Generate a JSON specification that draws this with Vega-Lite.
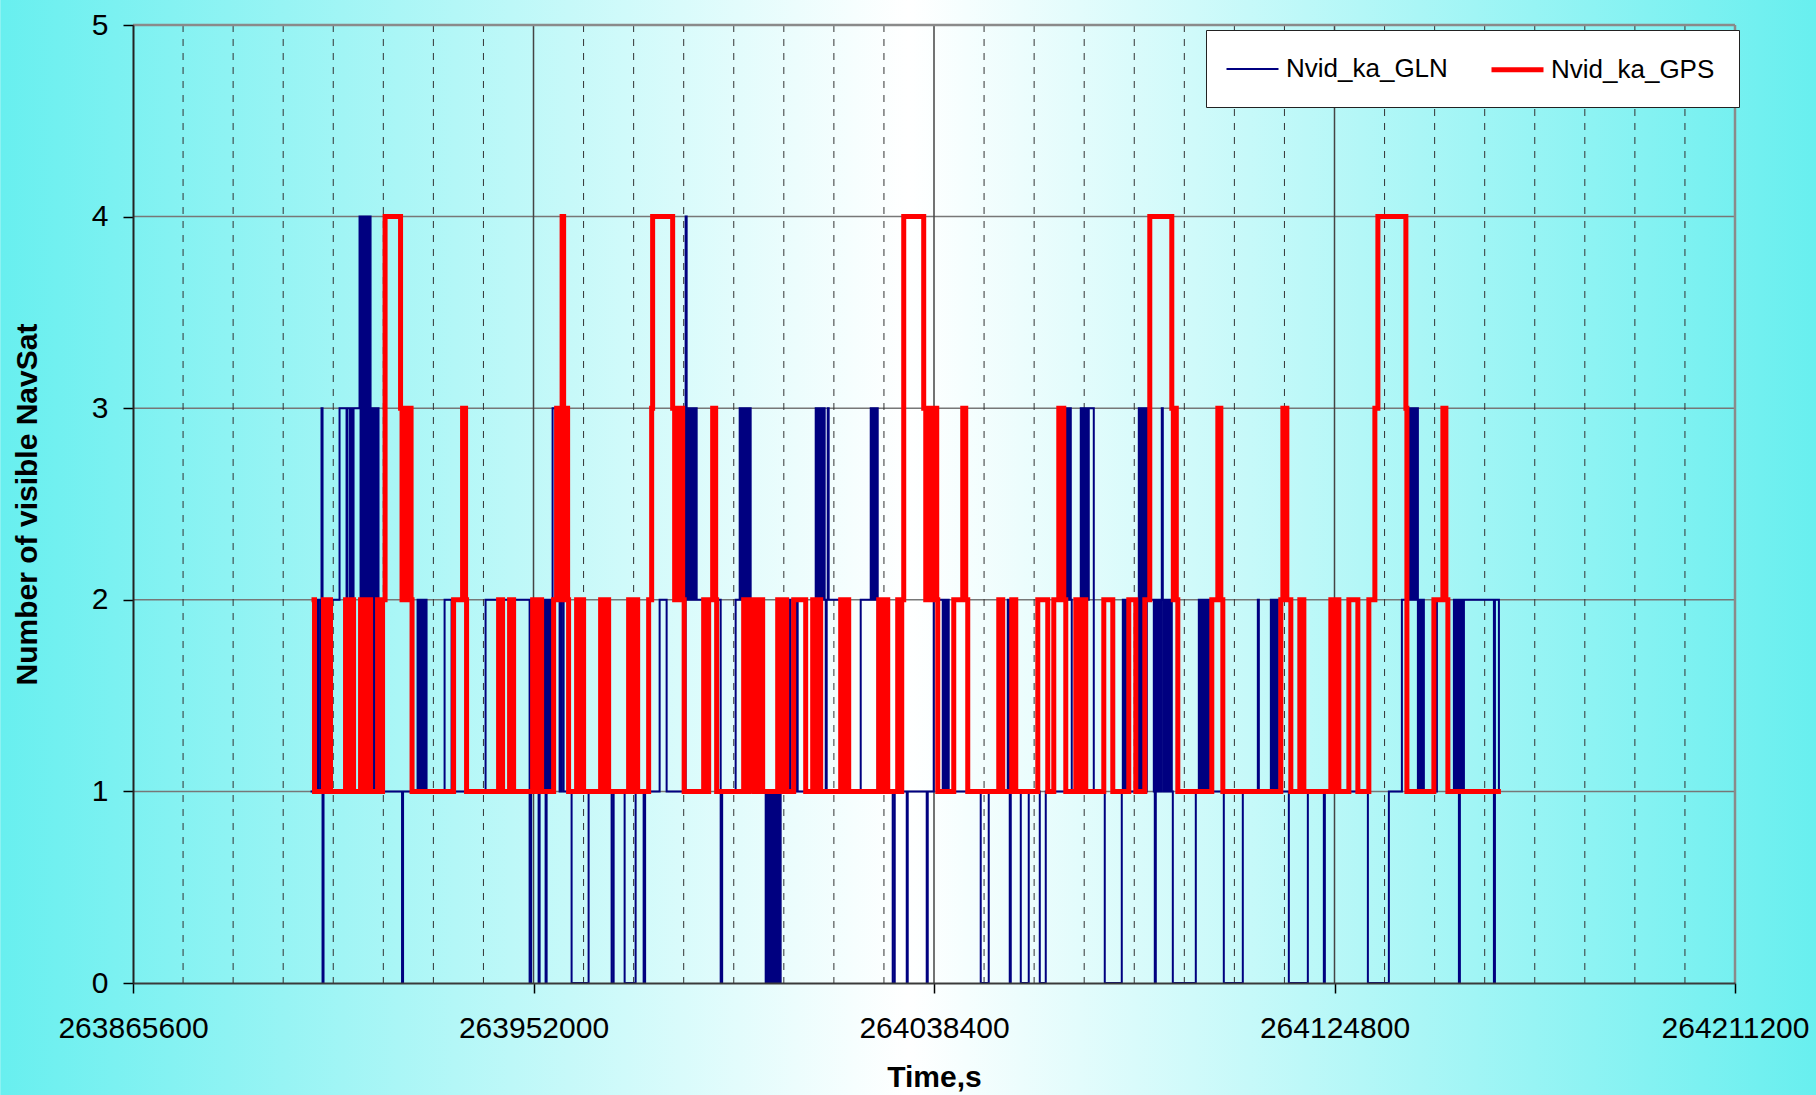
{
  "$schema": "https://vega.github.io/schema/vega-lite/v6.json",
  "width": 1602,
  "height": 958,
  "autosize": {"type": "none"},
  "padding": {"left": 133, "top": 25, "right": 81, "bottom": 112},
  "background": "#bdf6f6",
  "config": {
    "view": {"stroke": null},
    "font": "Liberation Sans"
  },
  "resolve": {"axis": {"x": "independent", "y": "independent"}},
  "layer": [
    {
      "data": {"values": [{}]},
      "mark": {"type": "rect", "stroke": null, "fill": {"gradient": "linear", "x1": 0, "y1": 0, "x2": 1, "y2": 0, "stops": [{"offset": 0, "color": "#68efef"}, {"offset": 0.5, "color": "#ffffff"}, {"offset": 1, "color": "#68efef"}]}},
      "encoding": {
        "x": {"datum": 263837000, "type": "quantitative", "scale": {"domain": [263865600, 264211200], "nice": false, "zero": false}, "axis": null},
        "x2": {"datum": 264228800},
        "y": {"datum": -1, "type": "quantitative", "scale": {"domain": [0, 5], "nice": false, "zero": false}, "axis": null},
        "y2": {"datum": 6}
      }
    },
    {
      "data": {"values": [{"g": 1}, {"g": 2}, {"g": 3}, {"g": 4}]},
      "mark": {"type": "rule", "color": "#777777", "strokeWidth": 1.5},
      "encoding": {
        "y": {"field": "g", "type": "quantitative", "scale": {"domain": [0, 5], "nice": false, "zero": false}, "axis": null}
      }
    },
    {
      "data": {"values": [{"t": 263876400}, {"t": 263887200}, {"t": 263898000}, {"t": 263908800}, {"t": 263919600}, {"t": 263930400}, {"t": 263941200}, {"t": 263962800}, {"t": 263973600}, {"t": 263984400}, {"t": 263995200}, {"t": 264006000}, {"t": 264016800}, {"t": 264027600}, {"t": 264049200}, {"t": 264060000}, {"t": 264070800}, {"t": 264081600}, {"t": 264092400}, {"t": 264103200}, {"t": 264114000}, {"t": 264135600}, {"t": 264146400}, {"t": 264157200}, {"t": 264168000}, {"t": 264178800}, {"t": 264189600}, {"t": 264200400}]},
      "mark": {"type": "rule", "color": "#333333", "strokeWidth": 1, "strokeDash": [7, 7]},
      "encoding": {
        "x": {"field": "t", "type": "quantitative", "scale": {"domain": [263865600, 264211200], "nice": false, "zero": false}, "axis": null}
      }
    },
    {
      "data": {"values": [{"t": 263952000}, {"t": 264038400}, {"t": 264124800}]},
      "mark": {"type": "rule", "color": "#444444", "strokeWidth": 1.5},
      "encoding": {
        "x": {"field": "t", "type": "quantitative", "scale": {"domain": [263865600, 264211200], "nice": false, "zero": false}, "axis": null}
      }
    },
    {
      "data": {"values": [{}]},
      "mark": {"type": "rule", "color": "#8a8a8a", "strokeWidth": 2.5},
      "encoding": {
        "y": {"datum": 5, "type": "quantitative", "scale": {"domain": [0, 5], "nice": false, "zero": false}, "axis": null}
      }
    },
    {
      "data": {"values": [{}]},
      "mark": {"type": "rule", "color": "#8a8a8a", "strokeWidth": 2.5},
      "encoding": {
        "x": {"datum": 264211200, "type": "quantitative", "scale": {"domain": [263865600, 264211200], "nice": false, "zero": false}, "axis": null}
      }
    },
    {
      "data": {"values": [
        {"s": "Nvid_ka_GLN", "t": 263903900, "n": 1}, {"s": "Nvid_ka_GLN", "t": 263904550, "n": 2}, {"s": "Nvid_ka_GLN", "t": 263905190, "n": 1}, {"s": "Nvid_ka_GLN", "t": 263905620, "n": 2}, {"s": "Nvid_ka_GLN", "t": 263906060, "n": 1}, {"s": "Nvid_ka_GLN", "t": 263906270, "n": 3}, {"s": "Nvid_ka_GLN", "t": 263906490, "n": 0}, {"s": "Nvid_ka_GLN", "t": 263906700, "n": 2},
        {"s": "Nvid_ka_GLN", "t": 263910160, "n": 3}, {"s": "Nvid_ka_GLN", "t": 263911670, "n": 2}, {"s": "Nvid_ka_GLN", "t": 263911880, "n": 3}, {"s": "Nvid_ka_GLN", "t": 263912420, "n": 2}, {"s": "Nvid_ka_GLN", "t": 263912640, "n": 3}, {"s": "Nvid_ka_GLN", "t": 263912960, "n": 2}, {"s": "Nvid_ka_GLN", "t": 263913180, "n": 3},
        {"s": "Nvid_ka_GLN", "t": 263914470, "n": 4}, {"s": "Nvid_ka_GLN", "t": 263914690, "n": 1}, {"s": "Nvid_ka_GLN", "t": 263914900, "n": 4}, {"s": "Nvid_ka_GLN", "t": 263915120, "n": 1}, {"s": "Nvid_ka_GLN", "t": 263915340, "n": 4}, {"s": "Nvid_ka_GLN", "t": 263915550, "n": 1}, {"s": "Nvid_ka_GLN", "t": 263915770, "n": 4}, {"s": "Nvid_ka_GLN", "t": 263915980, "n": 1}, {"s": "Nvid_ka_GLN", "t": 263916200, "n": 4}, {"s": "Nvid_ka_GLN", "t": 263916410, "n": 1}, {"s": "Nvid_ka_GLN", "t": 263916630, "n": 4}, {"s": "Nvid_ka_GLN", "t": 263916850, "n": 1},
        {"s": "Nvid_ka_GLN", "t": 263917060, "n": 3}, {"s": "Nvid_ka_GLN", "t": 263917280, "n": 1}, {"s": "Nvid_ka_GLN", "t": 263917490, "n": 3}, {"s": "Nvid_ka_GLN", "t": 263917710, "n": 1}, {"s": "Nvid_ka_GLN", "t": 263917930, "n": 3}, {"s": "Nvid_ka_GLN", "t": 263918140, "n": 1}, {"s": "Nvid_ka_GLN", "t": 263918360, "n": 3}, {"s": "Nvid_ka_GLN", "t": 263918570, "n": 1},
        {"s": "Nvid_ka_GLN", "t": 263923640, "n": 0}, {"s": "Nvid_ka_GLN", "t": 263923860, "n": 1},
        {"s": "Nvid_ka_GLN", "t": 263926990, "n": 2}, {"s": "Nvid_ka_GLN", "t": 263927200, "n": 1}, {"s": "Nvid_ka_GLN", "t": 263927420, "n": 2}, {"s": "Nvid_ka_GLN", "t": 263927640, "n": 1}, {"s": "Nvid_ka_GLN", "t": 263927850, "n": 2}, {"s": "Nvid_ka_GLN", "t": 263928070, "n": 1}, {"s": "Nvid_ka_GLN", "t": 263928280, "n": 2}, {"s": "Nvid_ka_GLN", "t": 263928500, "n": 1}, {"s": "Nvid_ka_GLN", "t": 263928720, "n": 2}, {"s": "Nvid_ka_GLN", "t": 263928930, "n": 1},
        {"s": "Nvid_ka_GLN", "t": 263932820, "n": 2}, {"s": "Nvid_ka_GLN", "t": 263934330, "n": 1}, {"s": "Nvid_ka_GLN", "t": 263941660, "n": 2},
        {"s": "Nvid_ka_GLN", "t": 263951160, "n": 0}, {"s": "Nvid_ka_GLN", "t": 263951480, "n": 2}, {"s": "Nvid_ka_GLN", "t": 263953100, "n": 0}, {"s": "Nvid_ka_GLN", "t": 263953320, "n": 2}, {"s": "Nvid_ka_GLN", "t": 263954180, "n": 1}, {"s": "Nvid_ka_GLN", "t": 263954400, "n": 2}, {"s": "Nvid_ka_GLN", "t": 263954610, "n": 0}, {"s": "Nvid_ka_GLN", "t": 263954830, "n": 1}, {"s": "Nvid_ka_GLN", "t": 263955040, "n": 2}, {"s": "Nvid_ka_GLN", "t": 263955260, "n": 1}, {"s": "Nvid_ka_GLN", "t": 263955470, "n": 2}, {"s": "Nvid_ka_GLN", "t": 263955690, "n": 1},
        {"s": "Nvid_ka_GLN", "t": 263956120, "n": 3}, {"s": "Nvid_ka_GLN", "t": 263956770, "n": 2}, {"s": "Nvid_ka_GLN", "t": 263957630, "n": 1}, {"s": "Nvid_ka_GLN", "t": 263958060, "n": 2}, {"s": "Nvid_ka_GLN", "t": 263958500, "n": 1},
        {"s": "Nvid_ka_GLN", "t": 263960220, "n": 0}, {"s": "Nvid_ka_GLN", "t": 263963890, "n": 1}, {"s": "Nvid_ka_GLN", "t": 263968850, "n": 0}, {"s": "Nvid_ka_GLN", "t": 263969290, "n": 1}, {"s": "Nvid_ka_GLN", "t": 263971660, "n": 0}, {"s": "Nvid_ka_GLN", "t": 263974030, "n": 1}, {"s": "Nvid_ka_GLN", "t": 263975760, "n": 0}, {"s": "Nvid_ka_GLN", "t": 263976080, "n": 1},
        {"s": "Nvid_ka_GLN", "t": 263979210, "n": 2}, {"s": "Nvid_ka_GLN", "t": 263980720, "n": 1},
        {"s": "Nvid_ka_GLN", "t": 263984820, "n": 4}, {"s": "Nvid_ka_GLN", "t": 263985040, "n": 2}, {"s": "Nvid_ka_GLN", "t": 263985260, "n": 3}, {"s": "Nvid_ka_GLN", "t": 263985470, "n": 2}, {"s": "Nvid_ka_GLN", "t": 263985690, "n": 3}, {"s": "Nvid_ka_GLN", "t": 263985900, "n": 2}, {"s": "Nvid_ka_GLN", "t": 263986120, "n": 3}, {"s": "Nvid_ka_GLN", "t": 263986330, "n": 2}, {"s": "Nvid_ka_GLN", "t": 263986550, "n": 3}, {"s": "Nvid_ka_GLN", "t": 263986770, "n": 2}, {"s": "Nvid_ka_GLN", "t": 263986980, "n": 3}, {"s": "Nvid_ka_GLN", "t": 263987200, "n": 2},
        {"s": "Nvid_ka_GLN", "t": 263992380, "n": 0}, {"s": "Nvid_ka_GLN", "t": 263992700, "n": 1}, {"s": "Nvid_ka_GLN", "t": 263995610, "n": 2},
        {"s": "Nvid_ka_GLN", "t": 263996480, "n": 3}, {"s": "Nvid_ka_GLN", "t": 263996690, "n": 2}, {"s": "Nvid_ka_GLN", "t": 263996910, "n": 3}, {"s": "Nvid_ka_GLN", "t": 263997120, "n": 2}, {"s": "Nvid_ka_GLN", "t": 263997340, "n": 3}, {"s": "Nvid_ka_GLN", "t": 263997560, "n": 2}, {"s": "Nvid_ka_GLN", "t": 263997770, "n": 3}, {"s": "Nvid_ka_GLN", "t": 263997990, "n": 2}, {"s": "Nvid_ka_GLN", "t": 263998200, "n": 3}, {"s": "Nvid_ka_GLN", "t": 263998420, "n": 2}, {"s": "Nvid_ka_GLN", "t": 263998630, "n": 3}, {"s": "Nvid_ka_GLN", "t": 263998850, "n": 2}, {"s": "Nvid_ka_GLN", "t": 263999280, "n": 1},
        {"s": "Nvid_ka_GLN", "t": 264002090, "n": 0}, {"s": "Nvid_ka_GLN", "t": 264002300, "n": 1}, {"s": "Nvid_ka_GLN", "t": 264002520, "n": 0}, {"s": "Nvid_ka_GLN", "t": 264002730, "n": 1}, {"s": "Nvid_ka_GLN", "t": 264002950, "n": 0}, {"s": "Nvid_ka_GLN", "t": 264003170, "n": 1}, {"s": "Nvid_ka_GLN", "t": 264003380, "n": 0}, {"s": "Nvid_ka_GLN", "t": 264003600, "n": 1}, {"s": "Nvid_ka_GLN", "t": 264003810, "n": 0}, {"s": "Nvid_ka_GLN", "t": 264004030, "n": 1}, {"s": "Nvid_ka_GLN", "t": 264004250, "n": 0}, {"s": "Nvid_ka_GLN", "t": 264004460, "n": 1}, {"s": "Nvid_ka_GLN", "t": 264004680, "n": 0}, {"s": "Nvid_ka_GLN", "t": 264004890, "n": 1}, {"s": "Nvid_ka_GLN", "t": 264005110, "n": 0}, {"s": "Nvid_ka_GLN", "t": 264005320, "n": 1},
        {"s": "Nvid_ka_GLN", "t": 264007050, "n": 2}, {"s": "Nvid_ka_GLN", "t": 264007480, "n": 1}, {"s": "Nvid_ka_GLN", "t": 264008560, "n": 2}, {"s": "Nvid_ka_GLN", "t": 264008990, "n": 1},
        {"s": "Nvid_ka_GLN", "t": 264012880, "n": 3}, {"s": "Nvid_ka_GLN", "t": 264013090, "n": 2}, {"s": "Nvid_ka_GLN", "t": 264013310, "n": 3}, {"s": "Nvid_ka_GLN", "t": 264013520, "n": 2}, {"s": "Nvid_ka_GLN", "t": 264013740, "n": 3}, {"s": "Nvid_ka_GLN", "t": 264013960, "n": 2}, {"s": "Nvid_ka_GLN", "t": 264014170, "n": 3}, {"s": "Nvid_ka_GLN", "t": 264014390, "n": 2}, {"s": "Nvid_ka_GLN", "t": 264014600, "n": 3}, {"s": "Nvid_ka_GLN", "t": 264014820, "n": 2}, {"s": "Nvid_ka_GLN", "t": 264015040, "n": 1}, {"s": "Nvid_ka_GLN", "t": 264015250, "n": 2}, {"s": "Nvid_ka_GLN", "t": 264015470, "n": 3}, {"s": "Nvid_ka_GLN", "t": 264015680, "n": 2},
        {"s": "Nvid_ka_GLN", "t": 264018270, "n": 1}, {"s": "Nvid_ka_GLN", "t": 264022590, "n": 2},
        {"s": "Nvid_ka_GLN", "t": 264024750, "n": 3}, {"s": "Nvid_ka_GLN", "t": 264024960, "n": 2}, {"s": "Nvid_ka_GLN", "t": 264025180, "n": 3}, {"s": "Nvid_ka_GLN", "t": 264025390, "n": 2}, {"s": "Nvid_ka_GLN", "t": 264025610, "n": 3}, {"s": "Nvid_ka_GLN", "t": 264025830, "n": 2}, {"s": "Nvid_ka_GLN", "t": 264026040, "n": 3}, {"s": "Nvid_ka_GLN", "t": 264026260, "n": 1},
        {"s": "Nvid_ka_GLN", "t": 264029490, "n": 0}, {"s": "Nvid_ka_GLN", "t": 264029930, "n": 1}, {"s": "Nvid_ka_GLN", "t": 264032520, "n": 0}, {"s": "Nvid_ka_GLN", "t": 264032730, "n": 1}, {"s": "Nvid_ka_GLN", "t": 264036830, "n": 0}, {"s": "Nvid_ka_GLN", "t": 264037050, "n": 1},
        {"s": "Nvid_ka_GLN", "t": 264038340, "n": 2}, {"s": "Nvid_ka_GLN", "t": 264040280, "n": 1}, {"s": "Nvid_ka_GLN", "t": 264040500, "n": 2}, {"s": "Nvid_ka_GLN", "t": 264040720, "n": 1}, {"s": "Nvid_ka_GLN", "t": 264040930, "n": 2}, {"s": "Nvid_ka_GLN", "t": 264041150, "n": 1}, {"s": "Nvid_ka_GLN", "t": 264041360, "n": 2}, {"s": "Nvid_ka_GLN", "t": 264041580, "n": 1},
        {"s": "Nvid_ka_GLN", "t": 264048480, "n": 0}, {"s": "Nvid_ka_GLN", "t": 264050210, "n": 1}, {"s": "Nvid_ka_GLN", "t": 264054310, "n": 2}, {"s": "Nvid_ka_GLN", "t": 264054740, "n": 0}, {"s": "Nvid_ka_GLN", "t": 264054960, "n": 1}, {"s": "Nvid_ka_GLN", "t": 264057120, "n": 0}, {"s": "Nvid_ka_GLN", "t": 264058840, "n": 1}, {"s": "Nvid_ka_GLN", "t": 264061220, "n": 0}, {"s": "Nvid_ka_GLN", "t": 264062510, "n": 1},
        {"s": "Nvid_ka_GLN", "t": 264066830, "n": 3}, {"s": "Nvid_ka_GLN", "t": 264067040, "n": 2}, {"s": "Nvid_ka_GLN", "t": 264067260, "n": 3}, {"s": "Nvid_ka_GLN", "t": 264067470, "n": 2}, {"s": "Nvid_ka_GLN", "t": 264067690, "n": 3}, {"s": "Nvid_ka_GLN", "t": 264067910, "n": 2}, {"s": "Nvid_ka_GLN", "t": 264068120, "n": 1},
        {"s": "Nvid_ka_GLN", "t": 264070060, "n": 3}, {"s": "Nvid_ka_GLN", "t": 264070280, "n": 2}, {"s": "Nvid_ka_GLN", "t": 264070500, "n": 3}, {"s": "Nvid_ka_GLN", "t": 264070710, "n": 2}, {"s": "Nvid_ka_GLN", "t": 264070930, "n": 3}, {"s": "Nvid_ka_GLN", "t": 264071140, "n": 2}, {"s": "Nvid_ka_GLN", "t": 264071360, "n": 3}, {"s": "Nvid_ka_GLN", "t": 264071580, "n": 2}, {"s": "Nvid_ka_GLN", "t": 264071790, "n": 3}, {"s": "Nvid_ka_GLN", "t": 264072870, "n": 1},
        {"s": "Nvid_ka_GLN", "t": 264075240, "n": 0}, {"s": "Nvid_ka_GLN", "t": 264078910, "n": 1}, {"s": "Nvid_ka_GLN", "t": 264079130, "n": 2}, {"s": "Nvid_ka_GLN", "t": 264079340, "n": 1}, {"s": "Nvid_ka_GLN", "t": 264079560, "n": 2}, {"s": "Nvid_ka_GLN", "t": 264079780, "n": 1}, {"s": "Nvid_ka_GLN", "t": 264079990, "n": 2}, {"s": "Nvid_ka_GLN", "t": 264080210, "n": 1}, {"s": "Nvid_ka_GLN", "t": 264080420, "n": 2}, {"s": "Nvid_ka_GLN", "t": 264080640, "n": 1},
        {"s": "Nvid_ka_GLN", "t": 264082580, "n": 3}, {"s": "Nvid_ka_GLN", "t": 264082800, "n": 1}, {"s": "Nvid_ka_GLN", "t": 264083010, "n": 3}, {"s": "Nvid_ka_GLN", "t": 264083230, "n": 1}, {"s": "Nvid_ka_GLN", "t": 264083440, "n": 3}, {"s": "Nvid_ka_GLN", "t": 264083660, "n": 1}, {"s": "Nvid_ka_GLN", "t": 264083880, "n": 3}, {"s": "Nvid_ka_GLN", "t": 264084090, "n": 1}, {"s": "Nvid_ka_GLN", "t": 264084310, "n": 3}, {"s": "Nvid_ka_GLN", "t": 264084520, "n": 2},
        {"s": "Nvid_ka_GLN", "t": 264085820, "n": 1}, {"s": "Nvid_ka_GLN", "t": 264086030, "n": 0}, {"s": "Nvid_ka_GLN", "t": 264086250, "n": 2}, {"s": "Nvid_ka_GLN", "t": 264086470, "n": 1}, {"s": "Nvid_ka_GLN", "t": 264086680, "n": 2}, {"s": "Nvid_ka_GLN", "t": 264086900, "n": 1}, {"s": "Nvid_ka_GLN", "t": 264087110, "n": 2}, {"s": "Nvid_ka_GLN", "t": 264087330, "n": 1}, {"s": "Nvid_ka_GLN", "t": 264087540, "n": 3}, {"s": "Nvid_ka_GLN", "t": 264087760, "n": 2}, {"s": "Nvid_ka_GLN", "t": 264087980, "n": 1}, {"s": "Nvid_ka_GLN", "t": 264088190, "n": 2}, {"s": "Nvid_ka_GLN", "t": 264088410, "n": 1}, {"s": "Nvid_ka_GLN", "t": 264088620, "n": 2}, {"s": "Nvid_ka_GLN", "t": 264088840, "n": 1}, {"s": "Nvid_ka_GLN", "t": 264089050, "n": 2}, {"s": "Nvid_ka_GLN", "t": 264089270, "n": 1}, {"s": "Nvid_ka_GLN", "t": 264089490, "n": 2}, {"s": "Nvid_ka_GLN", "t": 264089700, "n": 1}, {"s": "Nvid_ka_GLN", "t": 264089920, "n": 0},
        {"s": "Nvid_ka_GLN", "t": 264094880, "n": 1}, {"s": "Nvid_ka_GLN", "t": 264095530, "n": 2}, {"s": "Nvid_ka_GLN", "t": 264095740, "n": 1}, {"s": "Nvid_ka_GLN", "t": 264095960, "n": 2}, {"s": "Nvid_ka_GLN", "t": 264096180, "n": 1}, {"s": "Nvid_ka_GLN", "t": 264096390, "n": 2}, {"s": "Nvid_ka_GLN", "t": 264096610, "n": 1}, {"s": "Nvid_ka_GLN", "t": 264096820, "n": 2}, {"s": "Nvid_ka_GLN", "t": 264097040, "n": 1}, {"s": "Nvid_ka_GLN", "t": 264097260, "n": 2}, {"s": "Nvid_ka_GLN", "t": 264097470, "n": 1}, {"s": "Nvid_ka_GLN", "t": 264097690, "n": 2}, {"s": "Nvid_ka_GLN", "t": 264098120, "n": 1},
        {"s": "Nvid_ka_GLN", "t": 264100920, "n": 0}, {"s": "Nvid_ka_GLN", "t": 264105020, "n": 1}, {"s": "Nvid_ka_GLN", "t": 264108260, "n": 2}, {"s": "Nvid_ka_GLN", "t": 264108480, "n": 1},
        {"s": "Nvid_ka_GLN", "t": 264111070, "n": 2}, {"s": "Nvid_ka_GLN", "t": 264111280, "n": 1}, {"s": "Nvid_ka_GLN", "t": 264111500, "n": 2}, {"s": "Nvid_ka_GLN", "t": 264111710, "n": 1}, {"s": "Nvid_ka_GLN", "t": 264111930, "n": 2}, {"s": "Nvid_ka_GLN", "t": 264112150, "n": 1}, {"s": "Nvid_ka_GLN", "t": 264112360, "n": 2}, {"s": "Nvid_ka_GLN", "t": 264112580, "n": 1},
        {"s": "Nvid_ka_GLN", "t": 264114950, "n": 0}, {"s": "Nvid_ka_GLN", "t": 264119050, "n": 1}, {"s": "Nvid_ka_GLN", "t": 264122500, "n": 0}, {"s": "Nvid_ka_GLN", "t": 264122720, "n": 1}, {"s": "Nvid_ka_GLN", "t": 264132000, "n": 0}, {"s": "Nvid_ka_GLN", "t": 264136530, "n": 1}, {"s": "Nvid_ka_GLN", "t": 264139340, "n": 2},
        {"s": "Nvid_ka_GLN", "t": 264140850, "n": 3}, {"s": "Nvid_ka_GLN", "t": 264141060, "n": 2}, {"s": "Nvid_ka_GLN", "t": 264141280, "n": 3}, {"s": "Nvid_ka_GLN", "t": 264141490, "n": 2}, {"s": "Nvid_ka_GLN", "t": 264141710, "n": 3}, {"s": "Nvid_ka_GLN", "t": 264141930, "n": 2}, {"s": "Nvid_ka_GLN", "t": 264142140, "n": 3}, {"s": "Nvid_ka_GLN", "t": 264142360, "n": 2}, {"s": "Nvid_ka_GLN", "t": 264142570, "n": 3}, {"s": "Nvid_ka_GLN", "t": 264142790, "n": 1}, {"s": "Nvid_ka_GLN", "t": 264143000, "n": 2}, {"s": "Nvid_ka_GLN", "t": 264143220, "n": 1}, {"s": "Nvid_ka_GLN", "t": 264143440, "n": 2}, {"s": "Nvid_ka_GLN", "t": 264143650, "n": 1}, {"s": "Nvid_ka_GLN", "t": 264143870, "n": 2}, {"s": "Nvid_ka_GLN", "t": 264144080, "n": 1},
        {"s": "Nvid_ka_GLN", "t": 264146240, "n": 2}, {"s": "Nvid_ka_GLN", "t": 264146460, "n": 1}, {"s": "Nvid_ka_GLN", "t": 264146890, "n": 2}, {"s": "Nvid_ka_GLN", "t": 264149480, "n": 1},
        {"s": "Nvid_ka_GLN", "t": 264150560, "n": 2}, {"s": "Nvid_ka_GLN", "t": 264150770, "n": 1}, {"s": "Nvid_ka_GLN", "t": 264150990, "n": 2}, {"s": "Nvid_ka_GLN", "t": 264151210, "n": 1}, {"s": "Nvid_ka_GLN", "t": 264151420, "n": 2}, {"s": "Nvid_ka_GLN", "t": 264151640, "n": 0}, {"s": "Nvid_ka_GLN", "t": 264151850, "n": 2}, {"s": "Nvid_ka_GLN", "t": 264152070, "n": 1}, {"s": "Nvid_ka_GLN", "t": 264152280, "n": 2}, {"s": "Nvid_ka_GLN", "t": 264152500, "n": 1}, {"s": "Nvid_ka_GLN", "t": 264152720, "n": 2},
        {"s": "Nvid_ka_GLN", "t": 264159190, "n": 0}, {"s": "Nvid_ka_GLN", "t": 264159410, "n": 2}, {"s": "Nvid_ka_GLN", "t": 264160270, "n": 1},

        {"s": "Nvid_ka_GPS", "t": 263904110, "n": 2}, {"s": "Nvid_ka_GPS", "t": 263904760, "n": 1}, {"s": "Nvid_ka_GPS", "t": 263906700, "n": 2}, {"s": "Nvid_ka_GPS", "t": 263907350, "n": 1}, {"s": "Nvid_ka_GPS", "t": 263907570, "n": 2}, {"s": "Nvid_ka_GPS", "t": 263908210, "n": 1},
        {"s": "Nvid_ka_GPS", "t": 263911450, "n": 2}, {"s": "Nvid_ka_GPS", "t": 263912100, "n": 1}, {"s": "Nvid_ka_GPS", "t": 263912530, "n": 2}, {"s": "Nvid_ka_GPS", "t": 263913180, "n": 1}, {"s": "Nvid_ka_GPS", "t": 263914690, "n": 2}, {"s": "Nvid_ka_GPS", "t": 263915340, "n": 1}, {"s": "Nvid_ka_GPS", "t": 263915980, "n": 2}, {"s": "Nvid_ka_GPS", "t": 263916850, "n": 1},
        {"s": "Nvid_ka_GPS", "t": 263918360, "n": 2}, {"s": "Nvid_ka_GPS", "t": 263919000, "n": 1}, {"s": "Nvid_ka_GPS", "t": 263919440, "n": 2}, {"s": "Nvid_ka_GPS", "t": 263919980, "n": 4},
        {"s": "Nvid_ka_GPS", "t": 263923320, "n": 3}, {"s": "Nvid_ka_GPS", "t": 263923640, "n": 2}, {"s": "Nvid_ka_GPS", "t": 263923970, "n": 3}, {"s": "Nvid_ka_GPS", "t": 263924290, "n": 2}, {"s": "Nvid_ka_GPS", "t": 263924620, "n": 3}, {"s": "Nvid_ka_GPS", "t": 263924940, "n": 2}, {"s": "Nvid_ka_GPS", "t": 263925260, "n": 3}, {"s": "Nvid_ka_GPS", "t": 263925590, "n": 2}, {"s": "Nvid_ka_GPS", "t": 263925800, "n": 1},
        {"s": "Nvid_ka_GPS", "t": 263934760, "n": 2}, {"s": "Nvid_ka_GPS", "t": 263936700, "n": 3}, {"s": "Nvid_ka_GPS", "t": 263937350, "n": 2}, {"s": "Nvid_ka_GPS", "t": 263937560, "n": 1},
        {"s": "Nvid_ka_GPS", "t": 263944470, "n": 2}, {"s": "Nvid_ka_GPS", "t": 263945330, "n": 1}, {"s": "Nvid_ka_GPS", "t": 263946840, "n": 2}, {"s": "Nvid_ka_GPS", "t": 263947710, "n": 1}, {"s": "Nvid_ka_GPS", "t": 263951810, "n": 2}, {"s": "Nvid_ka_GPS", "t": 263952450, "n": 1}, {"s": "Nvid_ka_GPS", "t": 263952670, "n": 2}, {"s": "Nvid_ka_GPS", "t": 263953750, "n": 1},
        {"s": "Nvid_ka_GPS", "t": 263956340, "n": 2}, {"s": "Nvid_ka_GPS", "t": 263956990, "n": 3}, {"s": "Nvid_ka_GPS", "t": 263957420, "n": 2}, {"s": "Nvid_ka_GPS", "t": 263957850, "n": 3}, {"s": "Nvid_ka_GPS", "t": 263958170, "n": 4}, {"s": "Nvid_ka_GPS", "t": 263958500, "n": 3}, {"s": "Nvid_ka_GPS", "t": 263958820, "n": 2}, {"s": "Nvid_ka_GPS", "t": 263959140, "n": 3}, {"s": "Nvid_ka_GPS", "t": 263959360, "n": 2}, {"s": "Nvid_ka_GPS", "t": 263959570, "n": 1},
        {"s": "Nvid_ka_GPS", "t": 263961300, "n": 2}, {"s": "Nvid_ka_GPS", "t": 263961950, "n": 1}, {"s": "Nvid_ka_GPS", "t": 263962160, "n": 2}, {"s": "Nvid_ka_GPS", "t": 263962810, "n": 1}, {"s": "Nvid_ka_GPS", "t": 263966480, "n": 2}, {"s": "Nvid_ka_GPS", "t": 263967130, "n": 1}, {"s": "Nvid_ka_GPS", "t": 263967340, "n": 2}, {"s": "Nvid_ka_GPS", "t": 263968210, "n": 1}, {"s": "Nvid_ka_GPS", "t": 263972520, "n": 2}, {"s": "Nvid_ka_GPS", "t": 263973170, "n": 1}, {"s": "Nvid_ka_GPS", "t": 263973600, "n": 2}, {"s": "Nvid_ka_GPS", "t": 263974470, "n": 1},
        {"s": "Nvid_ka_GPS", "t": 263976840, "n": 2}, {"s": "Nvid_ka_GPS", "t": 263977490, "n": 3}, {"s": "Nvid_ka_GPS", "t": 263977700, "n": 4}, {"s": "Nvid_ka_GPS", "t": 263982020, "n": 3}, {"s": "Nvid_ka_GPS", "t": 263982450, "n": 2}, {"s": "Nvid_ka_GPS", "t": 263982880, "n": 3}, {"s": "Nvid_ka_GPS", "t": 263983310, "n": 2}, {"s": "Nvid_ka_GPS", "t": 263983740, "n": 3}, {"s": "Nvid_ka_GPS", "t": 263984180, "n": 2}, {"s": "Nvid_ka_GPS", "t": 263984500, "n": 1},
        {"s": "Nvid_ka_GPS", "t": 263988710, "n": 2}, {"s": "Nvid_ka_GPS", "t": 263989360, "n": 1}, {"s": "Nvid_ka_GPS", "t": 263989790, "n": 2}, {"s": "Nvid_ka_GPS", "t": 263990650, "n": 3}, {"s": "Nvid_ka_GPS", "t": 263991300, "n": 2}, {"s": "Nvid_ka_GPS", "t": 263991510, "n": 1},
        {"s": "Nvid_ka_GPS", "t": 263997340, "n": 2}, {"s": "Nvid_ka_GPS", "t": 263997990, "n": 1}, {"s": "Nvid_ka_GPS", "t": 263998420, "n": 2}, {"s": "Nvid_ka_GPS", "t": 263999500, "n": 1}, {"s": "Nvid_ka_GPS", "t": 264000580, "n": 2}, {"s": "Nvid_ka_GPS", "t": 264001440, "n": 1},
        {"s": "Nvid_ka_GPS", "t": 264004680, "n": 2}, {"s": "Nvid_ka_GPS", "t": 264005320, "n": 1}, {"s": "Nvid_ka_GPS", "t": 264005760, "n": 2}, {"s": "Nvid_ka_GPS", "t": 264006620, "n": 1}, {"s": "Nvid_ka_GPS", "t": 264008130, "n": 2}, {"s": "Nvid_ka_GPS", "t": 264010720, "n": 1},
        {"s": "Nvid_ka_GPS", "t": 264012230, "n": 2}, {"s": "Nvid_ka_GPS", "t": 264012880, "n": 1}, {"s": "Nvid_ka_GPS", "t": 264013310, "n": 2}, {"s": "Nvid_ka_GPS", "t": 264013960, "n": 1}, {"s": "Nvid_ka_GPS", "t": 264018270, "n": 2}, {"s": "Nvid_ka_GPS", "t": 264018920, "n": 1}, {"s": "Nvid_ka_GPS", "t": 264019350, "n": 2}, {"s": "Nvid_ka_GPS", "t": 264020000, "n": 1},
        {"s": "Nvid_ka_GPS", "t": 264026470, "n": 2}, {"s": "Nvid_ka_GPS", "t": 264027120, "n": 1}, {"s": "Nvid_ka_GPS", "t": 264027550, "n": 2}, {"s": "Nvid_ka_GPS", "t": 264028420, "n": 1},
        {"s": "Nvid_ka_GPS", "t": 264030570, "n": 2}, {"s": "Nvid_ka_GPS", "t": 264031000, "n": 1}, {"s": "Nvid_ka_GPS", "t": 264031440, "n": 2}, {"s": "Nvid_ka_GPS", "t": 264031870, "n": 4},
        {"s": "Nvid_ka_GPS", "t": 264036180, "n": 3}, {"s": "Nvid_ka_GPS", "t": 264036620, "n": 2}, {"s": "Nvid_ka_GPS", "t": 264037050, "n": 3}, {"s": "Nvid_ka_GPS", "t": 264037480, "n": 2}, {"s": "Nvid_ka_GPS", "t": 264037910, "n": 3}, {"s": "Nvid_ka_GPS", "t": 264038340, "n": 2}, {"s": "Nvid_ka_GPS", "t": 264038670, "n": 3}, {"s": "Nvid_ka_GPS", "t": 264038990, "n": 2}, {"s": "Nvid_ka_GPS", "t": 264039210, "n": 1},
        {"s": "Nvid_ka_GPS", "t": 264042660, "n": 2}, {"s": "Nvid_ka_GPS", "t": 264044600, "n": 3}, {"s": "Nvid_ka_GPS", "t": 264045250, "n": 2}, {"s": "Nvid_ka_GPS", "t": 264045680, "n": 1},
        {"s": "Nvid_ka_GPS", "t": 264052370, "n": 2}, {"s": "Nvid_ka_GPS", "t": 264053230, "n": 1}, {"s": "Nvid_ka_GPS", "t": 264055170, "n": 2}, {"s": "Nvid_ka_GPS", "t": 264056040, "n": 1}, {"s": "Nvid_ka_GPS", "t": 264060790, "n": 2}, {"s": "Nvid_ka_GPS", "t": 264062940, "n": 1},
        {"s": "Nvid_ka_GPS", "t": 264064240, "n": 2}, {"s": "Nvid_ka_GPS", "t": 264065320, "n": 3}, {"s": "Nvid_ka_GPS", "t": 264066400, "n": 2}, {"s": "Nvid_ka_GPS", "t": 264066830, "n": 1}, {"s": "Nvid_ka_GPS", "t": 264068990, "n": 2}, {"s": "Nvid_ka_GPS", "t": 264069630, "n": 1}, {"s": "Nvid_ka_GPS", "t": 264070060, "n": 2}, {"s": "Nvid_ka_GPS", "t": 264071140, "n": 1},
        {"s": "Nvid_ka_GPS", "t": 264075030, "n": 2}, {"s": "Nvid_ka_GPS", "t": 264076970, "n": 1}, {"s": "Nvid_ka_GPS", "t": 264080420, "n": 2}, {"s": "Nvid_ka_GPS", "t": 264081930, "n": 1},
        {"s": "Nvid_ka_GPS", "t": 264083880, "n": 2}, {"s": "Nvid_ka_GPS", "t": 264084950, "n": 4}, {"s": "Nvid_ka_GPS", "t": 264089700, "n": 3}, {"s": "Nvid_ka_GPS", "t": 264090030, "n": 2}, {"s": "Nvid_ka_GPS", "t": 264090350, "n": 3}, {"s": "Nvid_ka_GPS", "t": 264090670, "n": 2}, {"s": "Nvid_ka_GPS", "t": 264091000, "n": 1},
        {"s": "Nvid_ka_GPS", "t": 264098330, "n": 2}, {"s": "Nvid_ka_GPS", "t": 264099630, "n": 3}, {"s": "Nvid_ka_GPS", "t": 264100280, "n": 2}, {"s": "Nvid_ka_GPS", "t": 264100710, "n": 1},
        {"s": "Nvid_ka_GPS", "t": 264113220, "n": 2}, {"s": "Nvid_ka_GPS", "t": 264113660, "n": 3}, {"s": "Nvid_ka_GPS", "t": 264114520, "n": 2}, {"s": "Nvid_ka_GPS", "t": 264115380, "n": 1}, {"s": "Nvid_ka_GPS", "t": 264117320, "n": 2}, {"s": "Nvid_ka_GPS", "t": 264118190, "n": 1},
        {"s": "Nvid_ka_GPS", "t": 264124010, "n": 2}, {"s": "Nvid_ka_GPS", "t": 264124660, "n": 1}, {"s": "Nvid_ka_GPS", "t": 264125090, "n": 2}, {"s": "Nvid_ka_GPS", "t": 264125740, "n": 1}, {"s": "Nvid_ka_GPS", "t": 264127900, "n": 2}, {"s": "Nvid_ka_GPS", "t": 264129840, "n": 1},
        {"s": "Nvid_ka_GPS", "t": 264132210, "n": 2}, {"s": "Nvid_ka_GPS", "t": 264133510, "n": 3}, {"s": "Nvid_ka_GPS", "t": 264134160, "n": 4}, {"s": "Nvid_ka_GPS", "t": 264140200, "n": 3}, {"s": "Nvid_ka_GPS", "t": 264140420, "n": 1},
        {"s": "Nvid_ka_GPS", "t": 264146240, "n": 2}, {"s": "Nvid_ka_GPS", "t": 264148180, "n": 3}, {"s": "Nvid_ka_GPS", "t": 264148830, "n": 2}, {"s": "Nvid_ka_GPS", "t": 264149260, "n": 1}, {"s": "Nvid_ka_GPS", "t": 264160700, "n": 1}
      ]},
      "mark": {"type": "line", "interpolate": "step-after", "strokeCap": "butt", "strokeJoin": "miter"},
      "encoding": {
        "x": {"field": "t", "type": "quantitative",
              "scale": {"domain": [263865600, 264211200], "nice": false, "zero": false},
              "axis": {"orient": "bottom", "values": [263865600, 263952000, 264038400, 264124800, 264211200], "format": "d", "title": "Time,s", "grid": false, "zindex": 1,
                       "labelFont": "Liberation Sans", "labelFontSize": 30, "labelColor": "#000000", "labelPadding": 20, "labelFlush": false, "labelOverlap": false, "labelBound": false,
                       "tickSize": 10, "tickColor": "#000000", "tickWidth": 1.5, "domainColor": "#3a3a3a", "domainWidth": 2,
                       "titleFont": "Liberation Sans", "titleFontSize": 30, "titleFontWeight": "bold", "titleColor": "#000000", "titlePadding": 19}},
        "y": {"field": "n", "type": "quantitative",
              "scale": {"domain": [0, 5], "nice": false, "zero": false},
              "axis": {"orient": "left", "values": [0, 1, 2, 3, 4, 5], "format": "d", "title": "Number of visible NavSat", "grid": false, "zindex": 1,
                       "labelFont": "Liberation Sans", "labelFontSize": 30, "labelColor": "#000000", "labelPadding": 15,
                       "tickSize": 10, "tickColor": "#000000", "tickWidth": 1.5, "domainColor": "#222222", "domainWidth": 2,
                       "titleFont": "Liberation Sans", "titleFontSize": 30, "titleFontWeight": "bold", "titleColor": "#000000", "titlePadding": 49}},
        "color": {"field": "s", "type": "nominal",
                  "scale": {"domain": ["Nvid_ka_GLN", "Nvid_ka_GPS"], "range": ["#000080", "#ff0000"]},
                  "legend": {"title": null, "orient": "none", "legendX": 1073, "legendY": 5, "direction": "horizontal", "columns": 2,
                             "fillColor": "#ffffff", "strokeColor": "#222222", "padding": 24, "labelFont": "Liberation Sans", "labelFontSize": 26, "labelColor": "#000000",
                             "symbolType": "M-2,0H2", "symbolSize": 676, "symbolOffset": 7, "labelOffset": 18, "columnPadding": 33, "labelLimit": 500}},
        "strokeWidth": {"field": "s", "type": "ordinal",
                  "scale": {"domain": ["Nvid_ka_GLN", "Nvid_ka_GPS"], "range": [2, 5]},
                  "legend": {"title": null, "orient": "none", "legendX": 1073, "legendY": 5, "direction": "horizontal", "columns": 2,
                             "fillColor": "#ffffff", "strokeColor": "#222222", "padding": 24, "labelFont": "Liberation Sans", "labelFontSize": 26, "labelColor": "#000000",
                             "symbolType": "M-2,0H2", "symbolSize": 676, "symbolOffset": 7, "labelOffset": 18, "columnPadding": 33, "labelLimit": 500}}
      }
    }
  ]
}
